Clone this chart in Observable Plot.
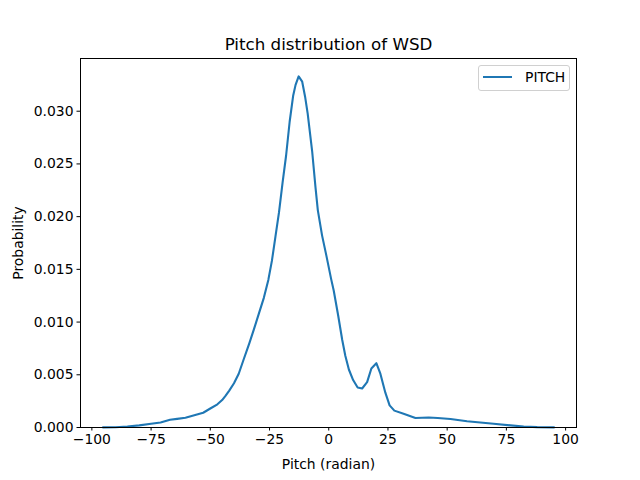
<!DOCTYPE html>
<html>
<head>
<meta charset="utf-8">
<script src="https://cdn.jsdelivr.net/npm/d3@7"></script>
<script src="https://cdn.jsdelivr.net/npm/@observablehq/plot@0.6"></script>
<style>
  html, body { margin: 0; padding: 0; background: #fff; }
  #wrap { position: relative; width: 640px; height: 480px; font-family: "DejaVu Sans", sans-serif; }
  #legend { position: absolute; left: 478px; top: 65px; width: 90px; height: 24px;
    border: 1px solid #d0d0d0; border-radius: 3px; background: rgba(255,255,255,0.8);
    box-sizing: content-box; }
  #legend .sw { position: absolute; left: 4px; top: 9.5px; width: 29px; height: 2px; background: #1f77b4; }
  #legend .lb { position: absolute; left: 46px; top: 3px; font-size: 13.9px; color: #000; line-height: 17px; }
</style>
</head>
<body>
<div id="wrap"></div>
<script>
const pitch = [-95.3, -90, -85, -80, -75, -71, -67, -64, -60.5, -56, -53, -50, -47, -45, -43.6, -42, -40, -38, -36, -33.5, -31.6, -29.5, -27.4, -25.5, -24, -22.5, -21, -19.5, -18, -16.5, -15, -14, -12.7, -11.2, -10, -8.9, -7, -5.6, -4.6, -2.8, -1, 1, 2.1, 4, 5.7, 7, 8.5, 10.3, 12.2, 14.1, 16.2, 18, 20.1, 21.8, 23.9, 25.7, 27.7, 31.6, 36.6, 42.2, 46, 51.4, 58.4, 64, 69.6, 76.7, 82.3, 88, 95.1];
const probability = [0.00001, 0.00003, 0.0001, 0.0002, 0.00035, 0.00048, 0.00073, 0.00082, 0.00092, 0.0012, 0.0014, 0.0018, 0.0022, 0.0026, 0.0030, 0.0035, 0.0042, 0.0051, 0.0064, 0.0080, 0.0093, 0.0108, 0.0123, 0.0140, 0.0158, 0.0181, 0.0204, 0.0232, 0.0258, 0.0290, 0.0315, 0.0325, 0.0333, 0.0328, 0.0314, 0.0298, 0.0262, 0.0228, 0.0206, 0.0182, 0.0163, 0.0141, 0.0130, 0.0106, 0.0083, 0.0068, 0.0055, 0.0045, 0.0038, 0.0037, 0.0043, 0.0056, 0.0061, 0.0051, 0.0033, 0.0021, 0.0016, 0.0013, 0.0009, 0.00095, 0.0009, 0.0008, 0.0006, 0.00048, 0.00035, 0.0002, 0.0001, 0.00004, 0.00001];
const xTicks = [-100, -75, -50, -25, 0, 25, 50, 75, 100];
const yTicks = [0, 0.005, 0.010, 0.015, 0.020, 0.025, 0.030];
const seriesName = "PITCH";
const titleText = "Pitch distribution of WSD";
const xLabel = "Pitch (radian)";
const yLabel = "Probability";

const data = pitch.map((x, i) => ({x, y: probability[i]}));
const fmtX = d => d < 0 ? "\u2212" + Math.abs(d) : String(d);

const chart = Plot.plot({
  width: 640,
  height: 480,
  marginLeft: 80,
  marginRight: 64,
  marginTop: 58,
  marginBottom: 53,
  style: { fontFamily: "DejaVu Sans, sans-serif", fontSize: "13.9px", color: "#000", background: "#fff" },
  x: { domain: [-104.8, 104.6], ticks: xTicks, tickFormat: fmtX, tickSize: 3.5, tickPadding: 3.5, label: null },
  y: { domain: [0, 0.035], ticks: yTicks, tickFormat: d3.format(".3f"), tickSize: 3.5, tickPadding: 3.5, label: null },
  marks: [
    Plot.line(data, { x: "x", y: "y", stroke: "#1f77b4", strokeWidth: 2.1 }),
    Plot.frame({ stroke: "#000", strokeWidth: 1 }),
    Plot.axisX({ ticks: xTicks, tickFormat: fmtX, tickSize: 3.5, tickPadding: 3.5, label: null, stroke: "#000", fill: "#000" }),
    Plot.axisY({ ticks: yTicks, tickFormat: d3.format(".3f"), tickSize: 3.5, tickPadding: 3.5, label: null, stroke: "#000", fill: "#000" }),
    Plot.text([titleText], { text: d => d, frameAnchor: "top", dy: -14, lineAnchor: "middle", fontSize: 16.7, fill: "#000" }),
    Plot.text([xLabel], { text: d => d, frameAnchor: "bottom", dy: 37, lineAnchor: "middle", fontSize: 13.9, fill: "#000" }),
    Plot.text([yLabel], { text: d => d, frameAnchor: "left", dx: -62, rotate: -90, lineAnchor: "middle", textAnchor: "middle", fontSize: 13.9, fill: "#000" })
  ]
});

const wrap = document.getElementById("wrap");
wrap.appendChild(chart);
const legend = document.createElement("div");
legend.id = "legend";
legend.innerHTML = '<div class="sw"></div><div class="lb"></div>';
legend.querySelector(".lb").textContent = seriesName;
wrap.appendChild(legend);
</script>
</body>
</html>
